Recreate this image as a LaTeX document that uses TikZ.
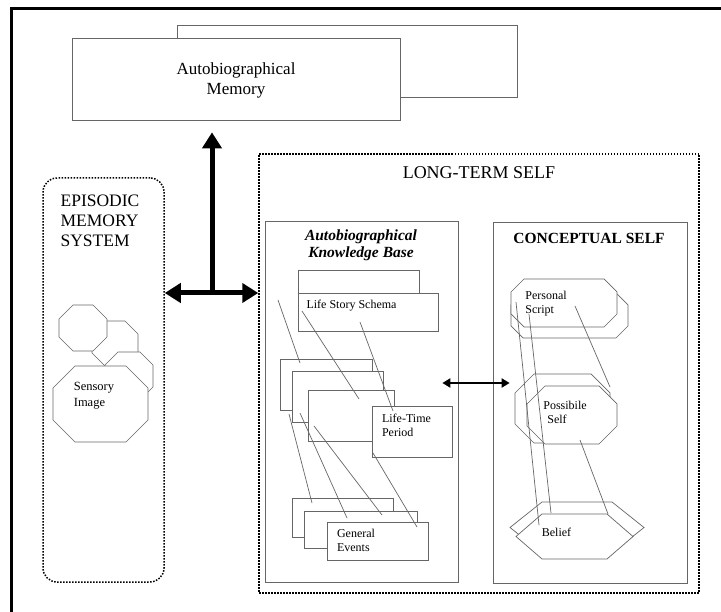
\documentclass[tikz,border=0pt]{standalone}
\usepackage{fontspec}
\setmainfont{Liberation Serif}
\usetikzlibrary{arrows.meta}

\begin{document}
\begin{tikzpicture}[x=1pt, y=-1pt, font=\fontsize{12}{14}\selectfont,
  fina/.style={draw=black!60, line width=0.7pt},
  caixa/.style={fina, fill=white, inner sep=0pt},
  pontilhado/.style={draw=black, line width=1.5pt, dash pattern=on 1.5pt off 1.5pt},
  setaG/.style={line width=5pt, >={Triangle[length=16pt, width=19pt]}},
  setaP/.style={line width=2.2pt, >={Triangle[length=8pt, width=9pt]}, <->}]
  \useasboundingbox (0,0) rectangle (721,612);
  % moldura
  \draw[line width=3pt] (11.5,612) -- (11.5,8.5) -- (721,8.5);
  % memoria autobiografica
  \node[caixa, minimum width=340pt, minimum height=72pt] (amfundo) at (347,61) {};
  \node[caixa, minimum width=328pt, minimum height=82pt] (amem) at (236,79) {};
  \node[align=center, font=\fontsize{17}{20}\selectfont] (amemT) at (236,80) {Autobiographical\\Memory};
  % sistema episodico
  \node[pontilhado, rounded corners=14pt, minimum width=121pt, minimum height=404pt] (ems) at (103.5,380) {};
  \node[align=left, font=\fontsize{17.5}{20}\selectfont] (emsT) at (100,221) {EPISODIC\\MEMORY\\SYSTEM};
  % octogonos: (x1, y1, x2, y2, chanfro), de tras para a frente
  \foreach \xa/\ya/\xb/\yb/\xch in {92/321/138/366/13, 59/305/107/351/14,
    105/352/153/400/13, 53/366/148/442/22}
    \filldraw[fina, fill=white] (\xa+\xch,\ya) -- (\xb-\xch,\ya) -- (\xb,\ya+\xch) -- (\xb,\yb-\xch)
      -- (\xb-\xch,\yb) -- (\xa+\xch,\yb) -- (\xa,\yb-\xch) -- (\xa,\ya+\xch) -- cycle;
  \node[align=left, font=\fontsize{12.5}{16}\selectfont] (sens) at (94,396) {Sensory\\Image};
  % long-term self
  \node[pontilhado, minimum width=440pt, minimum height=439pt] (lts) at (479,373.5) {};
  \node[font=\fontsize{18}{20}\selectfont] (ltsT) at (479,173) {LONG-TERM SELF};
  \node[caixa, minimum width=193pt, minimum height=361pt] (akb) at (361.5,401.5) {};
  \node[align=center, font=\fontsize{15.5}{17}\selectfont\bfseries\itshape] (akbT) at (361,245.5) {Autobiographical\\Knowledge Base};
  \node[caixa, minimum width=194pt, minimum height=361pt] (cs) at (590,402.5) {};
  \node[font=\fontsize{15.5}{17}\selectfont\bfseries] (csT) at (589,238) {CONCEPTUAL SELF};
  % base de conhecimento: caixas empilhadas
  \foreach \xa/\ya/\xb/\yb in {298/270/419/310, 280/359/372/410, 292/371/383/422,
    308/390/394/441, 292/498/393/537, 304/511/417/548}
    \filldraw[fina, fill=white] (\xa,\ya) rectangle (\xb,\yb);
  \node[caixa, minimum width=140pt, minimum height=38pt] (lss) at (368,312) {};
  \node (lssT) at (351.5,306) {Life Story Schema};
  \node[caixa, minimum width=80pt, minimum height=51pt] (ltp) at (412,431.5) {};
  \node[align=left] (ltpT) at (406.5,425) {Life-Time\\Period};
  \node[caixa, minimum width=101pt, minimum height=38pt] (ge) at (377.5,541) {};
  \node[align=left] (geT) at (356,540.5) {General\\Events};
  \foreach \xa/\ya/\xb/\yb in {278/300/300/363, 302/311/359/399, 360/322/393/411,
    289/414/312/503, 300/413/347/518, 314/426/382/515, 373/453/417/527}
    \draw[fina] (\xa,\ya) -- (\xb,\yb);
  % self conceptual
  \foreach \xa/\ya/\xb/\yb/\xch in {511/293/628/338/12, 511/279/617/327/13,
    515/374/610/443/19, 527/386/617/444/18}
    \filldraw[fina, fill=white] (\xa+\xch,\ya) -- (\xb-\xch,\ya) -- (\xb,\ya+\xch) -- (\xb,\yb-\xch)
      -- (\xb-\xch,\yb) -- (\xa+\xch,\yb) -- (\xa,\yb-\xch) -- (\xa,\ya+\xch) -- cycle;
  \foreach \xa/\ya/\xb/\yb/\xch in {510/502/644/553/32, 516/514/633/559/26}
    \filldraw[fina, fill=white] (\xa+\xch,\ya) -- (\xb-\xch,\ya) -- (\xb,\ya/2+\yb/2)
      -- (\xb-\xch,\yb) -- (\xa+\xch,\yb) -- (\xa,\ya/2+\yb/2) -- cycle;
  \node[align=left] (psT) at (546,304) {Personal\\Script};
  \node[align=left] (posT) at (565,412) {Possibile\\\hspace*{4pt}Self};
  \node (belT) at (556.5,532) {Belief};
  \foreach \xa/\ya/\xb/\yb in {516/302/539/525, 529/314/551/513, 575/306/610/387, 580/440/608/514}
    \draw[fina] (\xa,\ya) -- (\xb,\yb);
  % setas
  \coordinate (jn) at (212,293);
  \draw[setaG, <->] (ems.east |- jn) -- (lts.west |- jn);
  \draw[setaG, ->] (jn) -- ([yshift=-12pt]amem.south -| jn);
  \draw[setaP] ([xshift=-16pt, yshift=18.5pt]akb.east) -- ([xshift=17pt, yshift=19.5pt]cs.west);
\end{tikzpicture}
\end{document}
